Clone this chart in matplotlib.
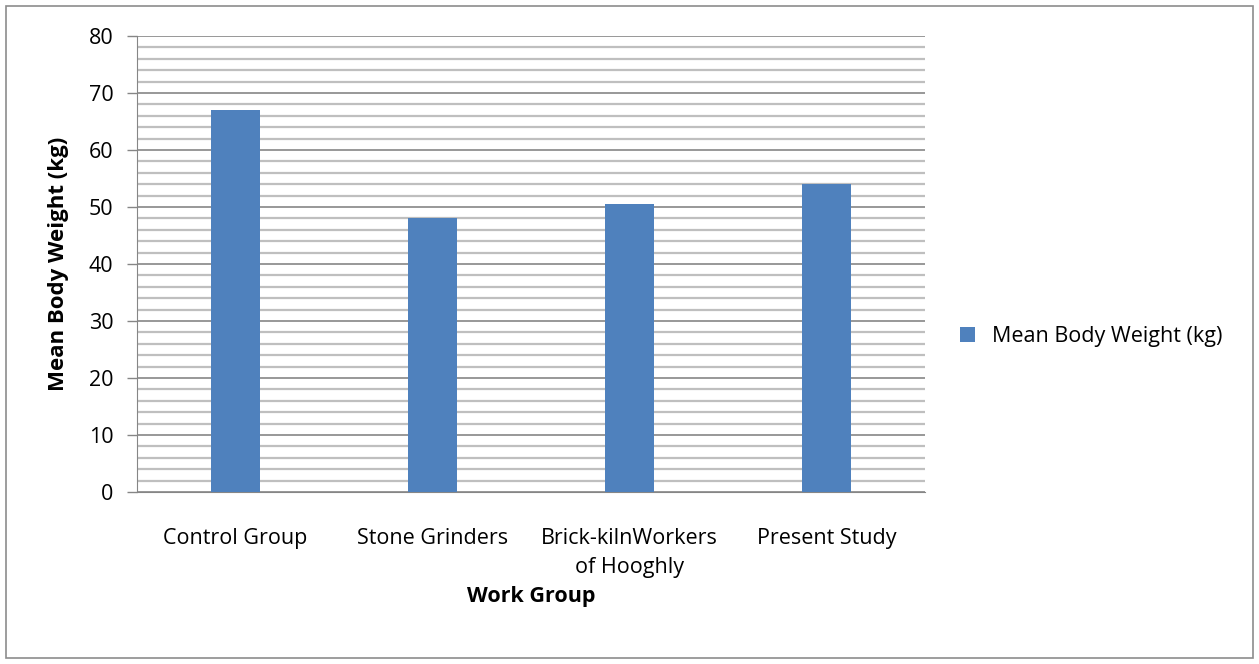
import numpy as np
import matplotlib.pyplot as plt
from matplotlib.patches import Rectangle
from matplotlib.ticker import MultipleLocator

plt.rcParams['font.family'] = ['Open Sans', 'DejaVu Sans']

# Данные
groups = ['Control Group', 'Stone Grinders', 'Brick-kilnWorkers\nof Hooghly', 'Present Study']
weights = [67.1, 48.1, 50.6, 54.1]
series_name = 'Mean Body Weight (kg)'

fig = plt.figure(figsize=(12.59, 6.64), dpi=100)
ax = fig.add_axes([137 / 1259, 1 - 492 / 664, 788 / 1259, 456 / 664])

# Рамка вокруг всего рисунка
fig.patches.append(Rectangle((6 / 1259, 6 / 664), 1247 / 1259, 652 / 664,
                             transform=fig.transFigure, fill=False,
                             edgecolor='#8c8c8c', linewidth=1.2))

x = np.arange(len(groups))
ax.bar(x, weights, width=0.25, color='#4f81bd', label=series_name, zorder=3)

ax.set_xlim(-0.5, len(groups) - 0.5)
ax.set_ylim(0, 80)
ax.yaxis.set_major_locator(MultipleLocator(10))
ax.yaxis.set_minor_locator(MultipleLocator(2))
ax.grid(which='major', axis='y', color='#868686', linewidth=1.2, zorder=0)
ax.grid(which='minor', axis='y', color='#bfbfbf', linewidth=1.6, zorder=0)

ax.set_xticks(x)
ax.set_xticklabels(groups, fontsize=15.5, linespacing=1.5)
ax.tick_params(axis='x', length=0, pad=26)
ax.tick_params(axis='y', which='major', length=7, width=1, color='#868686', labelsize=15.5, pad=10)
ax.tick_params(axis='y', which='minor', length=0)

for side in ['top', 'right']:
    ax.spines[side].set_visible(False)
ax.spines['left'].set_color('#868686')
ax.spines['bottom'].set_color('#868686')

ax.set_xlabel('Work Group', fontsize=15.5, fontweight='bold', labelpad=6)
ax.set_ylabel(series_name, fontsize=16, fontweight='bold', labelpad=14)

ax.legend(loc='center left', bbox_to_anchor=(1.02, 0.34), frameon=False,
          fontsize=15.5, handlelength=0.7, handleheight=0.7, handletextpad=0.8)

fig.savefig('out.png', dpi=100)
